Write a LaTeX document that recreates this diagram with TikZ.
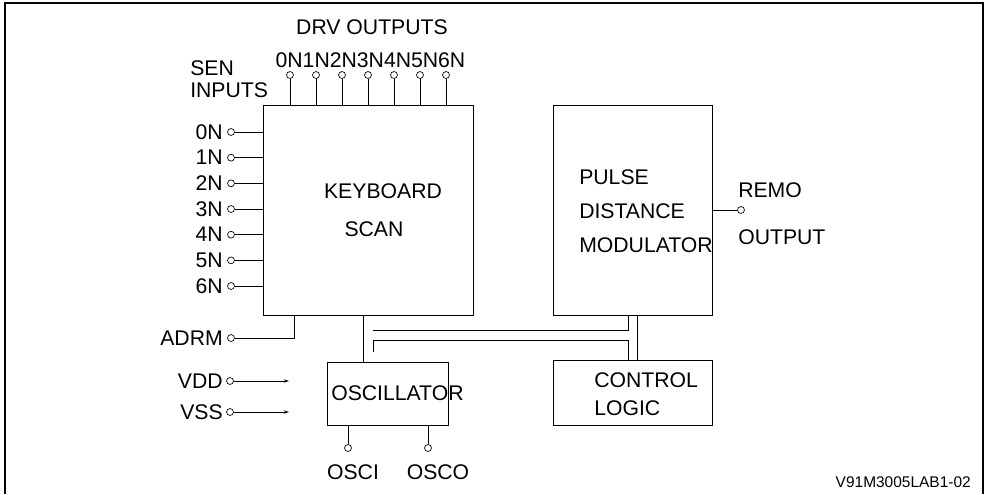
\documentclass[tikz,border=0pt]{standalone}
\usepackage{fontspec}
\setmainfont{Liberation Sans}
\usetikzlibrary{arrows.meta, positioning, fit}

\tikzset{
  blk/.style={draw, line width=0.6pt, inner sep=0pt},
  pin/.style={draw, circle, line width=0.5pt, inner sep=0pt, minimum size=5.2pt, fill=white},
  wire/.style={line width=0.6pt},
  lbl/.style={inner sep=0pt, font=\fontsize{15.9}{18}\selectfont},
  feed/.style={wire, -{Stealth[length=4pt, width=2.6pt]}},
}

\begin{document}
\begin{tikzpicture}[x=0.75pt, y=-0.75pt]
    \useasboundingbox (0,0) rectangle (986,494);

    %% ── Outer frame (open at the bottom) ───────────────────────────────
    \draw[line width=0.9pt] (5,494) -- (5,3) -- (983,3) -- (983,494);

    %% ═══ Blocks ════════════════════════════════════════════════════════
    \node[blk, fit={(263,105) (473,315)}] (kbd) {};
    \node[lbl] (kbdtxt1) at (383,191) {KEYBOARD};
    \node[lbl] (kbdtxt2) at (374,229) {SCAN};

    \node[blk, fit={(553,105) (712,315)}] (pdm) {};
    \node[lbl, anchor=west] (pdmtxt1) at (579,177) {PULSE};
    \node[lbl, anchor=west] (pdmtxt2) at (579,211) {DISTANCE};
    \node[lbl, anchor=west] (pdmtxt3) at (579,245) {MODULATOR};

    \node[blk, fit={(553,360) (712,425)}] (ctrl) {};
    \node[lbl, anchor=west] (ctrltxt1) at (594,380) {CONTROL};
    \node[lbl, anchor=west] (ctrltxt2) at (594,408) {LOGIC};

    \node[blk, fit={(327,362) (448,425)}] (osc) {};
    \node[lbl, anchor=west] (osctxt) at (331,393) {OSCILLATOR};

    %% ═══ DRV outputs ═══════════════════════════════════════════════════
    \node[lbl] (drvtitle) at (372,27) {DRV OUTPUTS};
    \node[lbl] (drvnames) at (370.5,60) {0N1N2N3N4N5N6N};
    \foreach \i in {0,...,6} {
      \node[pin] (drv\i) at ({290+26*\i},75) {};
      \draw[wire] (drv\i) -- (drv\i |- kbd.north);
    }

    %% ═══ SEN inputs ════════════════════════════════════════════════════
    \node[lbl, anchor=west] (sentitle1) at (190,68) {SEN};
    \node[lbl, anchor=west] (sentitle2) at (190,90) {INPUTS};
    \foreach \i in {0,...,6} {
      \node[pin] (sen\i) at (231,{132+25.67*\i}) {};
      \node[lbl, anchor=east] (senname\i) at (223,{132+25.67*\i}) {\i N};
      \draw[wire] (sen\i) -- (sen\i -| kbd.west);
    }

    %% ADRM
    \node[pin] (adrm) at (231,338) {};
    \node[lbl, anchor=east] (adrmname) at (223,338) {ADRM};
    \coordinate (kbdadrm) at (294,315);
    \draw[wire] (adrm) -| (kbdadrm);

    %% Supplies
    \node[pin] (vdd) at (230,381) {};
    \node[lbl, anchor=east] (vddname) at (223,381) {VDD};
    \coordinate (vddend) at (289,381);
    \draw[feed] (vdd) -- (vddend);

    \node[pin] (vss) at (230,412) {};
    \node[lbl, anchor=east] (vssname) at (223,412) {VSS};
    \coordinate (vssend) at (289,412);
    \draw[feed] (vss) -- (vssend);

    %% ═══ Internal wiring ═══════════════════════════════════════════════
    \coordinate (kbdosc) at (363,315);
    \draw[wire] (kbdosc) -- (kbdosc |- osc.north);

    % upper bus line: free end -> PDM
    \coordinate (busA) at (373,330);
    \coordinate (pdmA) at (628,315);
    \draw[wire] (busA) -| (pdmA);

    % lower bus line: free end -> CONTROL LOGIC
    \coordinate (busB) at (373,352);
    \coordinate (ctrlA) at (628,360);
    \draw[wire] (busB) -- ++(0,-12) -| (ctrlA);

    % PDM <-> CONTROL LOGIC
    \coordinate (pdmB) at (637,315);
    \draw[wire] (pdmB) -- (pdmB |- ctrl.north);

    %% Oscillator pins
    \node[pin] (osci) at (348,448) {};
    \node[pin] (osco) at (428,448) {};
    \draw[wire] (osci) -- (osci |- osc.south);
    \draw[wire] (osco) -- (osco |- osc.south);
    \node[lbl] (osciname) at (353,472) {OSCI};
    \node[lbl] (osconame) at (438,472) {OSCO};

    %% Remote output
    \node[pin] (remo) at (741,210) {};
    \draw[wire] (remo) -- (remo -| pdm.east);
    \node[lbl, anchor=west] (remoname1) at (738,190) {REMO};
    \node[lbl, anchor=west] (remoname2) at (738,237) {OUTPUT};

    %% Figure id
    \node[inner sep=0pt, anchor=east, font=\fontsize{11.6}{14}\selectfont]
      (figid) at (971,482) {V91M3005LAB1-02};

\end{tikzpicture}
\end{document}
